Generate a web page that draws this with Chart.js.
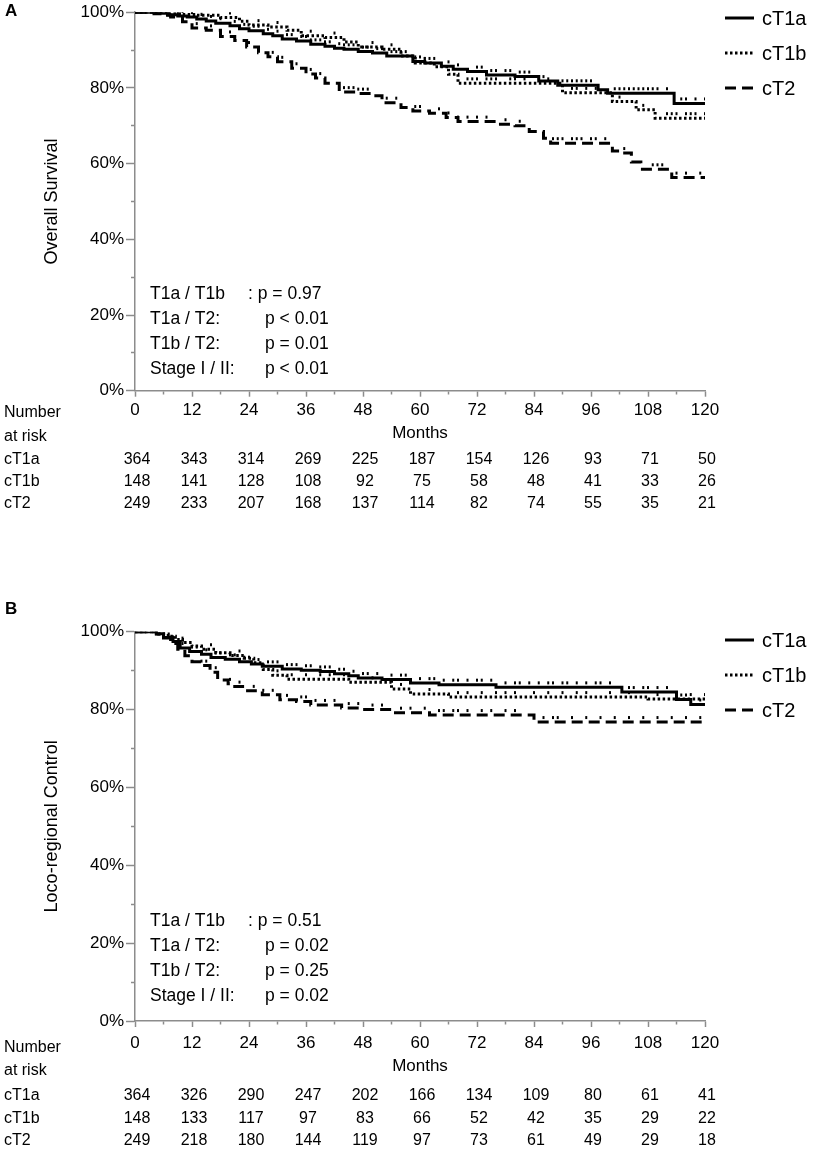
<!DOCTYPE html>
<html>
<head>
<meta charset="utf-8">
<script src="https://cdn.jsdelivr.net/npm/chart.js@4.4.1/dist/chart.umd.min.js"></script>
<style>
  html, body { margin: 0; padding: 0; background: #fff; }
  body { width: 829px; height: 1151px; position: relative; overflow: hidden; }
  .wrap { position: absolute; left: 0; width: 829px; }
  #wa { top: 0; height: 560px; }
  #wb { top: 590px; height: 561px; }
  canvas { display: block; }
</style>
</head>
<body>
<div class="wrap" id="wa"><canvas id="ca"></canvas></div>
<div class="wrap" id="wb"><canvas id="cb"></canvas></div>
<script>
// ---------- shared ----------
const seriesLabels = ['cT1a', 'cT1b', 'cT2'];
const riskMonths = [0, 12, 24, 36, 48, 60, 72, 84, 96, 108, 120];
const pLabels = ['T1a / T1b', 'T1a / T2:', 'T1b / T2:', 'Stage I / II:'];

// ---------- Panel A: Overall Survival ----------
const aT1aMonths = [0, 5, 7, 9, 11, 13, 15, 17, 20, 22, 24, 27, 29, 31, 34, 37, 40, 42, 44, 47, 50, 53, 58.5, 61, 64.5, 67, 70, 74, 80, 85, 89, 97.5, 99.5, 113.5, 120];
const aT1aSurv   = [100, 99.7, 99.3, 99, 98.7, 98.2, 97.7, 97.1, 96.4, 95.6, 95.1, 94.3, 93.8, 92.9, 92.4, 91.5, 91, 90.5, 90.2, 89.6, 89.2, 88.4, 87, 86.6, 85.7, 84.9, 84.3, 83.4, 83, 81.8, 80.7, 79.5, 78.6, 75.9, 75.9];
const aT1bMonths = [0, 7, 10, 13, 18, 22, 24, 28, 32, 35, 40, 44, 47, 52, 56, 59, 63, 66, 68, 90, 100.5, 105.5, 109.5, 120];
const aT1bSurv   = [100, 99.6, 99.4, 99.2, 98.6, 97.6, 96.6, 96.1, 95.2, 93.8, 93.3, 92.1, 90.8, 90.2, 88.4, 86.6, 85.6, 83.6, 81.2, 78.7, 76.4, 74.2, 72, 72];
const aT2Months  = [0, 4, 6, 7.5, 10, 12, 15, 18, 21, 23.5, 26, 28, 30, 33, 36, 38, 40, 43, 47, 50, 52, 56, 58.5, 62, 65.5, 68, 76.5, 80, 83, 86, 87.5, 100.5, 102, 104.5, 106.5, 113, 120];
const aT2Surv    = [100, 99.6, 99.2, 98.7, 97.5, 95.8, 95.2, 93.6, 92.5, 90.8, 89.3, 88.2, 86.9, 85.2, 83.7, 82.6, 81.2, 78.9, 78.5, 77.9, 76.1, 74.8, 73.9, 73.3, 72.2, 71.1, 70.4, 70, 68.5, 66.7, 65.4, 63.3, 62.8, 60.4, 58.5, 56.3, 56.3];
const aT1aCensor = [7, 10, 12, 14, 16, 18, 21, 23, 25, 26, 28, 30, 32, 33, 35, 36, 37, 38, 39, 40, 41, 43, 44, 45, 46, 48, 49, 51, 52, 54, 55, 56, 57, 59, 60, 61, 62, 63, 66, 68, 72, 73, 75, 76, 78, 79, 81, 82, 83, 86, 90, 91, 92, 93, 94, 95, 96, 101, 102, 103, 104, 105, 106, 107, 108, 109, 110, 112, 115, 116, 118, 120];
const aT1bCensor = [9, 14, 20, 26, 30, 37, 42, 50, 54, 61, 70, 71, 72, 74, 75, 76, 79, 80, 82, 85, 87, 92, 93, 95, 97, 102, 107, 112, 113, 114, 116, 117, 118, 120];
const aT2Censor  = [9, 13, 16, 20, 24, 29, 31, 34, 37, 39, 44, 45, 46, 47, 48, 49, 53, 55, 59, 60, 64, 66, 68, 70, 72, 74, 78, 81, 88, 89, 90, 92, 93, 94, 96, 97, 99, 103, 109, 110, 111, 114, 116, 119];
const aPValues = [': p = 0.97', 'p < 0.01', 'p = 0.01', 'p < 0.01'];
const aRiskT1a = [364, 343, 314, 269, 225, 187, 154, 126, 93, 71, 50];
const aRiskT1b = [148, 141, 128, 108, 92, 75, 58, 48, 41, 33, 26];
const aRiskT2  = [249, 233, 207, 168, 137, 114, 82, 74, 55, 35, 21];

// ---------- Panel B: Loco-regional Control ----------
const bT1aMonths = [0, 4.5, 6, 8, 9.5, 11.5, 14, 16, 19, 22, 24.5, 26.8, 31, 35, 39, 42, 45, 47, 52, 58, 64, 76, 102.5, 114, 117, 120];
const bT1aSurv   = [100, 99.5, 98.5, 97.5, 95.8, 94.9, 94.2, 93.4, 92.9, 92.3, 91.7, 91.1, 90.4, 90.1, 89.8, 89.2, 88.7, 88.1, 87.7, 86.8, 86.4, 85.7, 84.5, 82.6, 81.3, 81.3];
const bT1bMonths = [0, 5, 7, 8.5, 10, 12, 14, 17, 20, 23, 25, 27, 29, 32, 45, 54, 58, 66, 108, 120];
const bT1bSurv   = [100, 99.4, 98.8, 98, 97.2, 96.3, 95.5, 94.6, 93.9, 93.2, 92, 90.3, 88.8, 87.8, 87, 85.3, 84, 83.2, 82.7, 82.7];
const bT2Months  = [0, 4.5, 6, 7.5, 9, 10.5, 12, 14, 15.8, 17.4, 19.6, 21, 23.7, 26.8, 30.5, 34, 37, 43.5, 48, 54, 62, 84, 120];
const bT2Surv    = [100, 99.4, 98.4, 97, 95.5, 93.8, 92.3, 91.3, 89.6, 87.6, 86.6, 85.9, 84.8, 83.8, 82.5, 82.1, 81.2, 80.4, 80, 79.2, 78.6, 76.8, 76.8];
const bT1aCensor = [8, 10, 12, 13, 15, 17, 18, 20, 21, 23, 24, 26, 28, 29, 30, 32, 33, 34, 36, 37, 39, 40, 41, 43, 44, 46, 48, 49, 51, 54, 56, 57, 60, 62, 63, 65, 67, 68, 70, 72, 73, 75, 78, 80, 81, 83, 85, 87, 88, 90, 91, 93, 95, 97, 98, 100, 104, 105, 107, 108, 110, 112, 115, 116, 119];
const bT1bCensor = [10, 16, 22, 30, 33, 36, 39, 41, 44, 50, 56, 62, 68, 70, 73, 76, 78, 80, 84, 87, 90, 93, 95, 100, 104, 110, 114, 117, 120];
const bT2Censor  = [14, 15, 17, 20, 22, 25, 27, 29, 32, 35, 36, 38, 40, 42, 45, 47, 50, 52, 56, 58, 61, 64, 65, 67, 68, 70, 73, 75, 78, 80, 86, 88, 89, 92, 95, 98, 101, 104, 107, 110, 113, 116, 119];
const bPValues = [': p = 0.51', 'p = 0.02', 'p = 0.25', 'p = 0.02'];
const bRiskT1a = [364, 326, 290, 247, 202, 166, 134, 109, 80, 61, 41];
const bRiskT1b = [148, 133, 117, 97, 83, 66, 52, 42, 35, 29, 22];
const bRiskT2  = [249, 218, 180, 144, 119, 97, 73, 61, 49, 29, 18];

// ---------- helpers ----------
const FONT = '"Liberation Sans", Arial, Helvetica, sans-serif';
Chart.defaults.font.family = FONT;
Chart.defaults.color = '#000';
const AXIS = '#8c8c8c';

function stepPoints(months, surv) {
  return months.map((m, i) => ({ x: m, y: surv[i] }));
}
function valueAt(months, surv, t) {
  let v = surv[0];
  for (let i = 0; i < months.length; i++) { if (months[i] <= t) v = surv[i]; }
  return v;
}
function censorPoints(cm, months, surv) {
  return cm.map(t => ({ x: t, y: valueAt(months, surv, t) }));
}

// censor mark: small dot sitting just above the curve
const tickImg = document.createElement('canvas');
tickImg.width = 4; tickImg.height = 16;
(function () { const g = tickImg.getContext('2d'); g.fillStyle = '#000'; g.fillRect(1, 2, 2, 3); })();

const styles = [
  { width: 3, dash: [] },
  { width: 3, dash: [2.5, 2.5] },
  { width: 3, dash: [11, 6] }
];

const extrasPlugin = {
  id: 'kmExtras',
  afterDraw(chart, args, o) {
    const ctx = chart.ctx;
    const xs = chart.scales.x;
    ctx.save();
    ctx.fillStyle = '#000';
    ctx.textBaseline = 'middle';
    // panel letter
    ctx.textAlign = 'left';
    ctx.font = 'bold 17px ' + FONT;
    ctx.fillText(o.letter, 5, o.letterY);
    // legend
    ctx.font = '20px ' + FONT;
    o.legendY.forEach((y, i) => {
      const ds = chart.data.datasets[i];
      ctx.save();
      ctx.strokeStyle = '#000';
      ctx.lineWidth = 3;
      ctx.setLineDash(ds.borderDash || []);
      ctx.beginPath(); ctx.moveTo(725, y); ctx.lineTo(754, y); ctx.stroke();
      ctx.restore();
      ctx.fillText(ds.label, 762, y + 1);
    });
    // p-values
    ctx.font = '17.5px ' + FONT;
    o.pY.forEach((y, i) => {
      ctx.fillText(pLabels[i], 150, y);
      ctx.fillText(o.pValues[i], i === 0 ? 248 : 265, y);
    });
    // risk table
    ctx.font = '16px ' + FONT;
    ctx.fillText('Number', 4, o.numberY);
    ctx.fillText('at risk', 4, o.atRiskY);
    o.rows.forEach((row, r) => {
      ctx.textAlign = 'left';
      ctx.fillText(seriesLabels[r], 4, o.rowY[r]);
      ctx.textAlign = 'center';
      row.forEach((n, k) => {
        ctx.fillText(String(n), xs.getPixelForValue(riskMonths[k]) + 2, o.rowY[r]);
      });
    });
    ctx.restore();
  }
};

function buildPanel(canvasId, p) {
  const datasets = [];
  p.series.forEach((s, i) => {
    datasets.push({
      label: seriesLabels[i],
      data: stepPoints(s.months, s.surv),
      borderColor: '#000', backgroundColor: '#000',
      borderWidth: styles[i].width, borderDash: styles[i].dash,
      stepped: 'before', pointRadius: 0, fill: false, tension: 0
    });
  });
  p.series.forEach((s, i) => {
    datasets.push({
      label: seriesLabels[i] + ' censored',
      data: censorPoints(s.censor, s.months, s.surv),
      showLine: false, pointStyle: tickImg, pointRadius: 3,
      borderColor: '#000', backgroundColor: '#000'
    });
  });
  return new Chart(document.getElementById(canvasId), {
    type: 'line',
    data: { datasets },
    options: {
      responsive: true, maintainAspectRatio: false, animation: false,
      events: [],
      layout: { padding: { top: p.top, right: 124, bottom: 0, left: 0 } },
      plugins: { legend: { display: false }, tooltip: { enabled: false }, kmExtras: p.extras },
      scales: {
        x: {
          type: 'linear', min: 0, max: 120,
          afterFit: s => { s.height = p.xHeight; },
          border: { display: true, color: AXIS, width: 1.5 },
          grid: {
            drawOnChartArea: false, drawTicks: true, tickLength: 6, tickColor: AXIS, tickWidth: 1.5,
            tickBorderDash: c => (c.tick && c.tick.value % 12 !== 0) ? [3, 10] : []
          },
          ticks: {
            stepSize: 6, autoSkip: false, maxRotation: 0, padding: p.xPad, color: '#000',
            font: { size: 17 },
            callback: v => (v % 12 === 0 ? String(v) : '')
          },
          title: { display: true, text: 'Months', color: '#000', font: { size: 17 }, padding: { top: 0, bottom: p.xTitlePad } }
        },
        y: {
          min: 0, max: 100,
          afterFit: s => { s.width = 135; },
          border: { display: true, color: AXIS, width: 1.5 },
          grid: {
            drawOnChartArea: false, drawTicks: true, tickLength: 9, tickColor: AXIS, tickWidth: 1.5,
            tickBorderDash: c => (c.tick && c.tick.value % 20 !== 0) ? [0, 5, 4, 0] : []
          },
          ticks: {
            stepSize: 10, padding: 2, color: '#000', font: { size: 17 },
            callback: v => (v % 20 === 0 ? v + '%' : '')
          },
          title: { display: true, text: p.yTitle, color: '#000', font: { size: 18 }, padding: { top: 41.7, bottom: 0 } }
        }
      }
    },
    plugins: [extrasPlugin]
  });
}

buildPanel('ca', {
  top: 10, xHeight: 169.3, xPad: 3.8, xTitlePad: 116.8, yTitle: 'Overall Survival',
  series: [
    { months: aT1aMonths, surv: aT1aSurv, censor: aT1aCensor },
    { months: aT1bMonths, surv: aT1bSurv, censor: aT1bCensor },
    { months: aT2Months,  surv: aT2Surv,  censor: aT2Censor }
  ],
  extras: {
    letter: 'A', letterY: 11, legendY: [18, 53, 88],
    pValues: aPValues, pY: [294, 319, 344, 369],
    numberY: 413, atRiskY: 437, rowY: [460, 482, 504],
    rows: [aRiskT1a, aRiskT1b, aRiskT2]
  }
});

buildPanel('cb', {
  top: 41.7, xHeight: 130, xPad: 5.8, xTitlePad: 74.8, yTitle: 'Loco-regional Control',
  series: [
    { months: bT1aMonths, surv: bT1aSurv, censor: bT1aCensor },
    { months: bT1bMonths, surv: bT1bSurv, censor: bT1bCensor },
    { months: bT2Months,  surv: bT2Surv,  censor: bT2Censor }
  ],
  extras: {
    letter: 'B', letterY: 19, legendY: [50, 85, 120],
    pValues: bPValues, pY: [331, 356, 381, 406],
    numberY: 458, atRiskY: 481, rowY: [506, 529, 551],
    rows: [bRiskT1a, bRiskT1b, bRiskT2]
  }
});
</script>
</body>
</html>
